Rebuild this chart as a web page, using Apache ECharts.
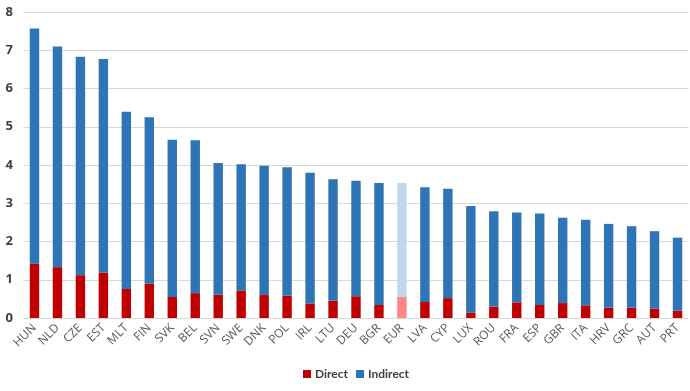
<!DOCTYPE html>
<html><head><meta charset="utf-8">
<script src="https://cdn.jsdelivr.net/npm/echarts@6/dist/echarts.min.js"></script>
<style>html,body{margin:0;padding:0;background:#fff}#c{width:690px;height:391px}</style>
</head><body><div id="c"></div>
<script>
var categories = ['HUN','NLD','CZE','EST','MLT','FIN','SVK','BEL','SVN','SWE','DNK','POL','IRL','LTU','DEU','BGR','EUR','LVA','CYP','LUX','ROU','FRA','ESP','GBR','ITA','HRV','GRC','AUT','PRT'];
var direct = [1.42,1.33,1.12,1.19,0.76,0.90,0.55,0.65,0.61,0.72,0.60,0.58,0.38,0.45,0.57,0.34,0.55,0.42,0.52,0.14,0.30,0.41,0.34,0.39,0.33,0.27,0.27,0.24,0.19];
var indirect = [6.15,5.77,5.71,5.58,4.63,4.35,4.11,4.00,3.44,3.30,3.38,3.36,3.42,3.18,3.02,3.19,2.98,3.00,2.86,2.79,2.49,2.35,2.39,2.23,2.24,2.19,2.13,2.03,1.91];
var yTicks = [0,1,2,3,4,5,6,7,8];
var highlight = 'EUR';

var font = 'Open Sans';
function mk(arr, hl){
  return arr.map(function(v,i){
    return categories[i]===highlight ? {value:v,itemStyle:{color:hl}} : v;
  });
}
var chart = echarts.init(document.getElementById('c'));
chart.setOption({
  animation:false,
  textStyle:{fontFamily:font},
  grid:{left:23,right:1,top:12,bottom:73,containLabel:false},
  legend:{top:363,left:298,itemWidth:8,itemHeight:8,itemGap:8,
    icon:'rect',
    textStyle:{fontFamily:'Lato',fontSize:12,fontWeight:'bold',color:'#404040',padding:[0,0,0,-1]},
    data:['Direct','Indirect']},
  xAxis:{type:'category',data:categories,
    axisLine:{show:false},axisTick:{show:false},
    axisLabel:{rotate:45,interval:0,color:'#595959',fontSize:12,fontFamily:font,margin:8}},
  yAxis:{type:'value',min:yTicks[0],max:yTicks[yTicks.length-1],interval:1,
    axisLine:{show:false},axisTick:{show:false},
    axisLabel:{color:'#404040',fontSize:13,fontWeight:'bold',fontFamily:font,margin:10},
    splitLine:{lineStyle:{color:'#D9D9D9',width:1}}},
  series:[
    {name:'Direct',type:'bar',stack:'t',barWidth:'41%',itemStyle:{color:'#C00000'},data:mk(direct,'#FF8585')},
    {name:'Indirect',type:'bar',stack:'t',barWidth:'41%',itemStyle:{color:'#2E75B6'},data:mk(indirect,'#BDD7EE')}
  ]
});
</script></body></html>
